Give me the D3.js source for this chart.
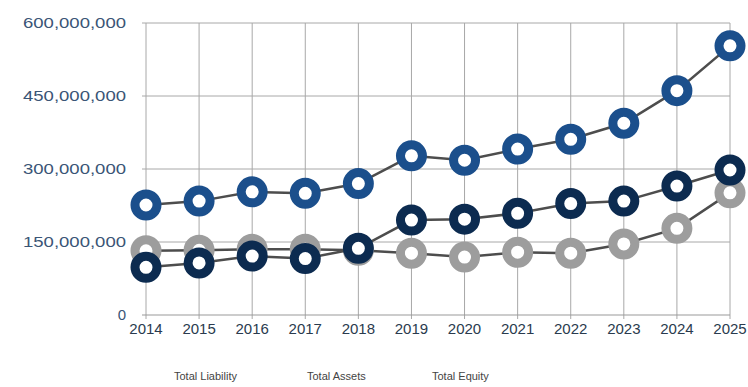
<!DOCTYPE html>
<html><head><meta charset="utf-8">
<script src="https://cdn.jsdelivr.net/npm/d3@7"></script>
<style>body{margin:0;background:#fff}svg{display:block}</style>
</head><body><svg id="c" width="748" height="387"></svg>
<script>
const years = [2014,2015,2016,2017,2018,2019,2020,2021,2022,2023,2024,2025];
const totalLiability = [132e6,133e6,135e6,135e6,133e6,127e6,119e6,129e6,127e6,146e6,178e6,251e6];
const totalAssets = [226e6,234e6,253e6,250e6,270e6,327e6,318e6,341e6,361e6,394e6,461e6,553e6];
const totalEquity = [98e6,107e6,121e6,116e6,137e6,195e6,197e6,209e6,229e6,234e6,265e6,298e6];
const yTicks = [0,150e6,300e6,450e6,600e6];
const seriesNames = ["Total Liability","Total Assets","Total Equity"];
const seriesColors = ["#9d9d9d","#1b4f8c","#0c2b50"];
const seriesData = [totalLiability,totalAssets,totalEquity];

const svg = d3.select("#c");
const x = d3.scalePoint().domain(years).range([146,730]);
const y = d3.scaleLinear().domain([0,600e6]).range([315,23]);
const font = "'Liberation Sans', Arial, Helvetica, sans-serif";

// grid
const g = svg.append("g");
g.selectAll("line.v").data(years).join("line")
  .attr("x1",d=>x(d)).attr("x2",d=>x(d)).attr("y1",23).attr("y2",319)
  .attr("stroke","#a8a8a8").attr("stroke-width",1);
g.selectAll("line.h").data(yTicks).join("line")
  .attr("x1",142).attr("x2",730).attr("y1",d=>y(d)).attr("y2",d=>y(d))
  .attr("stroke",d=>d===0?"#999":"#a8a8a8").attr("stroke-width",1);

// y labels
svg.append("g").selectAll("text").data(yTicks).join("text")
  .attr("x",126).attr("y",d=>y(d)+5)
  .attr("text-anchor","end")
  .attr("font-family",font).attr("font-size",15)
  .attr("fill","#3a5576")
  .attr("textLength",d=>d===0?null:103).attr("lengthAdjust","spacingAndGlyphs")
  .text(d=>d3.format(",")(d));

// x labels
svg.append("g").selectAll("text").data(years).join("text")
  .attr("x",d=>x(d)).attr("y",334)
  .attr("text-anchor","middle")
  .attr("font-family",font).attr("font-size",15)
  .attr("fill","#2a3b4e")
  .text(d=>d);

// series
const line = d3.line().x((d,i)=>x(years[i])).y(d=>y(d));
seriesData.forEach((vals,si)=>{
  const sg = svg.append("g");
  sg.append("path").attr("d",line(vals)).attr("fill","none")
    .attr("stroke","#4d4d4d").attr("stroke-width",2.5);
  sg.selectAll("circle").data(vals).join("circle")
    .attr("cx",(d,i)=>x(years[i])).attr("cy",d=>y(d)).attr("r",11)
    .attr("fill","#fff").attr("stroke",seriesColors[si]).attr("stroke-width",9);
});

// legend
const legX = [174,307,432];
svg.append("g").selectAll("text").data(seriesNames).join("text")
  .attr("x",(d,i)=>legX[i]).attr("y",380)
  .attr("font-family",font).attr("font-size",11)
  .attr("fill","#444")
  .text(d=>d);
</script></body></html>
